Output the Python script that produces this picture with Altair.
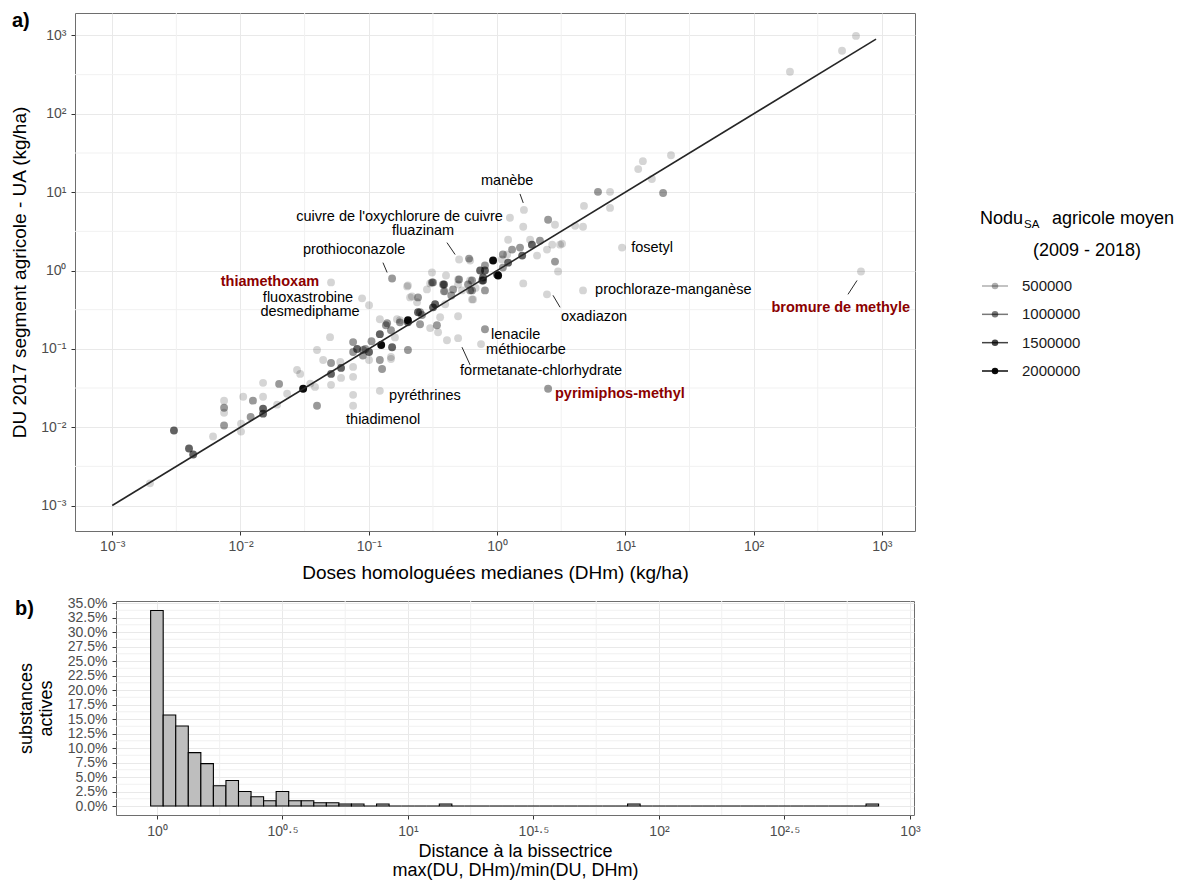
import altair as alt
import pandas as pd

FONT = "Liberation Sans"

# ---------------- a) scatter data ----------------
L, M, D, B = 150000, 700000, 1200000, 2000000  # Nodu shades

dhm = [0.00197, 0.00303, 0.00397, 0.00428, 0.00611, 0.00745, 0.00745, 0.00745, 0.00745, 0.0101,
       0.0101, 0.0105, 0.0125, 0.015, 0.015, 0.015, 0.015, 0.02, 0.0193, 0.0231,
       0.0276, 0.0292, 0.0308, 0.0381, 0.0395, 0.0395, 0.0441, 0.0499, 0.0508, 0.0508,
       0.0508, 0.0608, 0.0608, 0.0755, 0.0755, 0.0755, 0.0755, 0.0755, 0.0811, 0.0904,
       0.1005, 0.1005, 0.122, 0.125, 0.122, 0.127, 0.149, 0.152, 0.149, 0.175,
       0.202, 0.202, 0.242, 0.251, 0.301, 0.317, 0.34, 0.347, 0.407, 0.497,
       0.805, 0.122, 0.139, 0.166, 0.199, 0.21, 0.238, 0.284, 0.311, 0.311,
       0.329, 0.386, 0.386, 0.454, 0.506, 0.594, 0.617, 0.738, 0.778, 0.931,
       0.605, 0.805, 0.805, 1.02, 1.11, 0.202, 0.301, 0.217, 0.242, 0.394,
       0.533, 0.617, 0.764, 0.65, 0.394, 0.36, 0.136, 1.6, 2.5, 2.83,
       1.22, 1.81, 2.16, 1.87, 1.51, 1.31, 1.11, 1.09, 1.22, 1.57,
       2.05, 2.45, 2.69, 3.1, 2.83, 2.99, 1.6, 1.0, 0.638, 0.497,
       0.4, 0.379, 0.638, 4.76, 6.12, 7.6, 7.6, 12.6, 13.7, 4.06,
       4.68, 22.7, 16.1, 19.7, 628, 489, 192, 3.21,
       0.778, 0.638, 0.497, 0.617, 0.317, 1.20, 0.202, 0.251, 0.175, 0.094,
       0.149, 0.09, 0.06, 0.44, 0.68, 0.26, 0.16, 0.105, 0.035, 0.012,
       1.62, 1.26, 0.506, 0.152, 0.0508, 0.0887, 0.1005, 2.45, 4.68, 9.42,
       687, 0.805, 0.75, 0.497, 2.5, 0.122, 0.0755]
du = [0.00192, 0.00906, 0.00535, 0.00449, 0.0076, 0.0218, 0.0177, 0.0153, 0.0105, 0.0111,
      0.00879, 0.0245, 0.0218, 0.0368, 0.0245, 0.0172, 0.0149, 0.0357, 0.0194, 0.0267,
      0.0538, 0.0479, 0.0309, 0.0327, 0.0188, 0.0966, 0.0721, 0.141, 0.0661, 0.0479,
      0.0347, 0.0571, 0.0426, 0.122, 0.0911, 0.0588, 0.0439, 0.0259, 0.0994, 0.0966,
      0.0911, 0.0721, 0.154, 0.112, 0.0721, 0.0554, 0.173, 0.105, 0.0787, 0.232,
      0.232, 0.0966, 0.293, 0.206, 0.184, 0.339, 0.2, 0.163, 0.129, 0.261,
      0.557, 0.239, 0.212, 0.239, 0.627, 0.454, 0.393, 0.574, 0.944, 0.705,
      0.371, 0.664, 0.542, 0.574, 0.769, 0.664, 1.34, 1.0, 0.815, 1.34,
      1.42, 1.16, 1.0, 0.864, 1.09, 0.645, 0.684, 0.468, 0.454, 0.542,
      0.557, 0.746, 0.746, 0.428, 0.371, 0.253, 0.2, 3.62, 4.44, 3.84,
      2.47, 2.47, 2.4, 2.14, 1.96, 1.85, 1.6, 1.38, 1.26, 1.55,
      1.55, 1.85, 2.14, 2.14, 1.3, 0.97, 0.684, 0.889, 0.557, 0.664,
      0.864, 0.664, 0.428, 6.68, 10.1, 10.1, 6.3, 19.7, 24.9, 3.72,
      3.62, 29.6, 14.7, 9.77, 988, 638, 345, 2.2,
      0.746, 0.746, 0.769, 0.557, 0.705, 1.60, 0.218, 0.293, 0.218, 0.0994,
      0.0741, 0.082, 0.068, 0.48, 0.60, 0.27, 0.14, 0.125, 0.036, 0.0135,
      5.94, 4.71, 1.38, 0.791, 0.705, 0.441, 0.36, 0.496, 0.557, 1.96,
      0.97, 0.178, 0.115, 0.137, 0.0309, 0.0291, 0.0188]
nodu = [L, D, D, D, L, L, M, L, M, L,
        L, L, M, L, L, D, D, M, L, L,
        L, L, B, L, M, L, L, L, M, D,
        L, D, L, M, M, L, L, L, D, M,
        D, L, D, B, M, M, M, D, L, L,
        B, M, D, M, L, D, M, L, L, L,
        M, L, M, L, L, L, L, L, L, M,
        D, D, M, M, M, M, L, D, D, B,
        M, M, D, B, M, L, L, L, M, L,
        L, L, M, L, L, L, M, L, M, L,
        L, L, M, D, M, M, M, L, D, D,
        L, L, L, L, M, L, L, D, M, L,
        L, M, L, L, M, L, L, L, L, L,
        L, L, L, M, L, L, L, L,
        D, M, L, M, M, L, D, M, M, M,
        L, M, L, M, L, M, L, M, L, M,
        L, L, L, M, L, L, L, L, L, L,
        L, M, L, L, M, L, L]

# annotations (text anchor in data units)
lab_name = ["manèbe", "fluazinam", "prothioconazole", "fluoxastrobine", "desmediphame",
            "cuivre de l'oxychlorure de cuivre",
            "lenacile", "méthiocarbe", "formetanate-chlorhydrate", "pyréthrines", "thiadimenol",
            "oxadiazon", "prochloraze-manganèse", "fosetyl",
            "thiamethoxam", "bromure de methyle", "pyrimiphos-methyl"]
lab_x = [1.20, 0.265, 0.0768, 0.0336, 0.0348,
         1.11,
         0.898, 0.821, 0.515, 0.144, 0.0665,
         3.15, 5.81, 11.1,
         0.041, 1656, 2.83]
lab_y = [13.9, 3.22, 1.85, 0.441, 0.293,
         4.84,
         0.150, 0.0966, 0.0523, 0.0252, 0.0125,
         0.253, 0.557, 1.96,
         0.705, 0.330, 0.0267]
lab_anchor = ["center", "center", "center", "center", "center",
              "right",
              "left", "left", "left", "left", "left",
              "left", "left", "left",
              "right", "right", "left"]
lab_red = [0, 0, 0, 0, 0, 0, 0, 0, 0, 0, 0, 0, 0, 0, 1, 1, 1]

seg_x = [1.51, 0.407, 0.129, 0.533, 2.73, 544]
seg_y = [9.49, 2.27, 1.26, 0.105, 0.482, 0.496]
seg_x2 = [1.60, 0.471, 0.139, 0.617, 3.10, 640]
seg_y2 = [7.29, 1.60, 0.944, 0.0623, 0.339, 0.746]

bis_x = [0.001, 900]

major_exp = [-3, -2, -1, 0, 1, 2, 3]
major_txt = ["10⁻³", "10⁻²", "10⁻¹", "10⁰", "10¹", "10²", "10³"]
minor_exp = [-2.5, -1.5, -0.5, 0.5, 1.5, 2.5]

legend_vals = [500000, 1000000, 1500000, 2000000]

# ---------------- b) histogram data ----------------
hist_first_edge = -0.025   # log10 of the first bin's lower edge
hist_width = 0.05          # bin width in log10 units
hist_pct = [33.7, 15.7, 13.8, 9.2, 7.3, 3.5, 4.4, 2.5, 1.6, 0.9,
            2.5, 0.9, 0.9, 0.55, 0.55, 0.35, 0.35, 0.0, 0.35, 0.0,
            0.0, 0.0, 0.0, 0.35, 0.0, 0.0, 0.0, 0.0, 0.0, 0.0,
            0.0, 0.0, 0.0, 0.0, 0.0, 0.0, 0.0, 0.0, 0.35, 0.0,
            0.0, 0.0, 0.0, 0.0, 0.0, 0.0, 0.0, 0.0, 0.0, 0.0,
            0.0, 0.0, 0.0, 0.0, 0.0, 0.0, 0.0, 0.35]
h_major_exp = [0, 0.5, 1, 1.5, 2, 2.5, 3]
h_major_txt = ["10⁰", "10⁰·⁵", "10¹", "10¹·⁵", "10²", "10²·⁵", "10³"]
h_minor_exp = [0.25, 0.75, 1.25, 1.75, 2.25, 2.75]
pct_major = [0, 2.5, 5, 7.5, 10, 12.5, 15, 17.5, 20, 22.5, 25, 27.5, 30, 32.5, 35]
pct_minor = [1.25, 3.75, 6.25, 8.75, 11.25, 13.75, 16.25, 18.75, 21.25, 23.75,
             26.25, 28.75, 31.25, 33.75]

# ---------------- helpers ----------------
def pow_label_expr(exps, texts):
    expr = "'" + texts[-1] + "'"
    for e, t in zip(reversed(exps[:-1]), reversed(texts[:-1])):
        thr = 10 ** (e + (exps[1] - exps[0]) / 2)
        expr = f"datum.value < {thr!r} ? '{t}' : ({expr})"
    return expr

W, H = 840, 518
HW, HH = 798, 214
GRID_MINOR = "#f1f1f1"

op_scale = alt.Scale(domain=[0, 2100000], range=[0.1, 1.0])
xs = alt.Scale(type="log", domain=[10 ** -3.29, 10 ** 3.258], nice=False)
ys = alt.Scale(type="log", domain=[10 ** -3.325, 10 ** 3.287], nice=False)

x_axis = alt.Axis(values=[10.0 ** e for e in major_exp],
                  labelExpr=pow_label_expr(major_exp, major_txt),
                  title="Doses homologuées medianes (DHm) (kg/ha)",
                  titleFontSize=19, titlePadding=10, labelFontSize=14, labelPadding=4,
                  labelOverlap=False, labelFlush=False, grid=True)
y_axis = alt.Axis(values=[10.0 ** e for e in major_exp],
                  labelExpr=pow_label_expr(major_exp, major_txt),
                  title="DU 2017 segment agricole - UA (kg/ha)",
                  titleFontSize=19, titlePadding=11, labelFontSize=14, labelPadding=5,
                  labelOverlap=False, grid=True)

def X(field):
    return alt.X(field, type="quantitative", scale=xs, axis=x_axis)

def Y(field):
    return alt.Y(field, type="quantitative", scale=ys, axis=y_axis)

df_pts = pd.DataFrame({"dhm": dhm, "du": du, "nodu": nodu})
df_minor_x = pd.DataFrame({"dhm": [10 ** e for e in minor_exp]})
df_minor_y = pd.DataFrame({"du": [10 ** e for e in minor_exp]})
df_bis = pd.DataFrame({"dhm": bis_x, "du": bis_x})
df_lab = pd.DataFrame({"name": lab_name, "dhm": lab_x, "du": lab_y,
                       "anchor": lab_anchor, "red": lab_red})
df_seg = pd.DataFrame({"dhm": seg_x, "du": seg_y, "dhm2": seg_x2, "du2": seg_y2})
one = pd.DataFrame({"k": [0]})

minor_x = alt.Chart(df_minor_x).mark_rule(color=GRID_MINOR, strokeWidth=1).encode(x=X("dhm"))
minor_y = alt.Chart(df_minor_y).mark_rule(color=GRID_MINOR, strokeWidth=1).encode(y=Y("du"))
points = alt.Chart(df_pts).mark_circle(size=62, color="black").encode(
    x=X("dhm"), y=Y("du"),
    opacity=alt.Opacity("nodu:Q", scale=op_scale, legend=None))
bis = alt.Chart(df_bis).mark_line(color="#262626", strokeWidth=1.6).encode(x=X("dhm"), y=Y("du"))
segs = alt.Chart(df_seg).mark_rule(color="#111111", strokeWidth=0.9).encode(
    x=X("dhm"), y=Y("du"), x2="dhm2:Q", y2="du2:Q")

def labels(anchor, red):
    return alt.Chart(df_lab).transform_filter(
        f"datum.anchor == '{anchor}' && datum.red == {red}"
    ).mark_text(align=anchor, baseline="middle", font=FONT, fontSize=14.5,
                fontWeight="bold" if red else "normal",
                color="#8B0000" if red else "black").encode(
        x=X("dhm"), y=Y("du"), text="name:N")

tag_a = alt.Chart(one).mark_text(text="a)", align="left", baseline="middle", font=FONT,
                                 fontSize=20, fontWeight="bold", color="black").encode(
    x=alt.value(-63), y=alt.value(8))

scatter = alt.layer(minor_x, minor_y, points, bis, segs,
                    labels("center", 0), labels("right", 0), labels("left", 0),
                    labels("right", 1), labels("left", 1), tag_a).properties(width=W, height=H)

# ---------------- legend (custom, beside panel a) ----------------
df_leg = pd.DataFrame({"val": legend_vals})
ly = alt.Y("val:Q", scale=alt.Scale(domain=[legend_vals[0], legend_vals[-1]], range=[273, 358]), axis=None)
leg_op = alt.Opacity("val:Q", scale=op_scale, legend=None)
leg_rule = alt.Chart(df_leg).mark_rule(color="black", strokeWidth=1.5).encode(
    x=alt.value(67), x2=alt.value(93), y=ly, opacity=leg_op)
leg_dot = alt.Chart(df_leg).mark_circle(color="black", size=42).encode(
    x=alt.value(80), y=ly, opacity=leg_op)
leg_txt = alt.Chart(df_leg).mark_text(align="left", baseline="middle", font=FONT,
                                      fontSize=15, color="#1a1a1a").encode(
    x=alt.value(107), y=ly, text=alt.Text("val:Q", format="d"))

def ltext(txt, x, y, size, align="left"):
    return alt.Chart(one).mark_text(text=txt, align=align, baseline="middle", font=FONT,
                                    fontSize=size, color="black").encode(
        x=alt.value(x), y=alt.value(y))

legend = alt.layer(
    ltext("Nodu", 65, 206, 18), ltext("SA", 109, 212, 11.5),
    ltext("agricole moyen", 137, 206, 18), ltext("(2009 - 2018)", 172, 238, 18, "center"),
    leg_rule, leg_dot, leg_txt
).properties(width=276, height=H, view=alt.ViewBackground(strokeOpacity=0))

top_row = alt.hconcat(scatter, legend, spacing=0, bounds="flush")

# ---------------- b) histogram ----------------
df_hist = pd.DataFrame({
    "lo": [10 ** (hist_first_edge + hist_width * k) for k in range(len(hist_pct))],
    "hi": [10 ** (hist_first_edge + hist_width * (k + 1)) for k in range(len(hist_pct))],
    "pct": hist_pct})

hxs = alt.Scale(type="log", domain=[10 ** -0.163, 10 ** 3.016], nice=False)
hys = alt.Scale(domain=[-1.55, 35.35], nice=False, zero=False)
hx_axis = alt.Axis(values=[10.0 ** e for e in h_major_exp],
                   labelExpr=pow_label_expr(h_major_exp, h_major_txt),
                   title=["Distance à la bissectrice", "max(DU, DHm)/min(DU, DHm)"],
                   titleFontSize=18, titleLineHeight=19, titlePadding=4,
                   labelFontSize=14, labelPadding=5, labelOverlap=False, labelFlush=False,
                   grid=True)
hy_axis = alt.Axis(values=pct_major, labelExpr="format(datum.value, '.1f') + '%'",
                   title=["substances", "actives"], titleFontSize=18, titleLineHeight=20,
                   titlePadding=12, labelFontSize=14, labelPadding=5, labelOverlap=False,
                   grid=True)

def HX(field):
    return alt.X(field, type="quantitative", scale=hxs, axis=hx_axis)

def HY(field):
    return alt.Y(field, type="quantitative", scale=hys, axis=hy_axis)

h_minor_x = alt.Chart(pd.DataFrame({"lo": [10 ** e for e in h_minor_exp]})).mark_rule(
    color=GRID_MINOR, strokeWidth=1).encode(x=HX("lo"))
h_minor_y = alt.Chart(pd.DataFrame({"pct": pct_minor})).mark_rule(
    color=GRID_MINOR, strokeWidth=1).encode(y=HY("pct"))
bars = alt.Chart(df_hist).mark_rect(fill="#bebebe", stroke="black", strokeWidth=1.1).encode(
    x=HX("lo"), x2="hi:Q", y=HY("pct"), y2=alt.datum(0))
tag_b = alt.Chart(one).mark_text(text="b)", align="left", baseline="middle", font=FONT,
                                 fontSize=20, fontWeight="bold", color="black").encode(
    x=alt.value(-101), y=alt.value(8))

hist = alt.layer(h_minor_x, h_minor_y, bars, tag_b).properties(width=HW, height=HH)

spacer = alt.Chart(one).mark_point(opacity=0).encode(
    x=alt.value(0), y=alt.value(0)
).properties(width=41, height=HH, view=alt.ViewBackground(strokeOpacity=0))

bottom_row = alt.hconcat(spacer, hist, spacing=0, bounds="flush")

chart = alt.vconcat(top_row, bottom_row, spacing=12).properties(
    padding={"left": 2, "right": 2, "top": 2, "bottom": 2}
).configure(font=FONT).configure_view(
    stroke="#6e6e6e", strokeWidth=1
).configure_axis(
    domain=False, tickColor="#333333", tickSize=4, labelColor="#4d4d4d",
    labelFont=FONT, titleFont=FONT, titleColor="black", titleFontWeight="normal",
    gridColor="#e9e9e9", gridWidth=1
)

chart.save("out.html", embed_options={"renderer": "svg", "actions": False})
